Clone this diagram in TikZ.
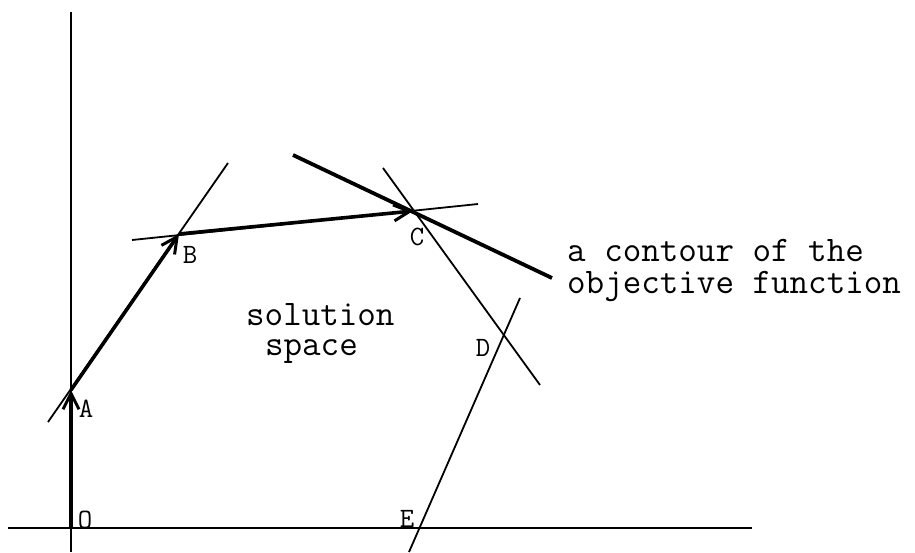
\documentclass[tikz,border=0pt]{standalone}
\usetikzlibrary{arrows.meta}
\begin{document}
\begin{tikzpicture}[x=1pt,y=-1pt,
  axis/.style={line width=2.1pt},
  thinline/.style={line width=1.8pt},
  pathseg/.style={line width=3.6pt, -{Straight Barb[length=16pt,width=16pt,line width=3pt]}},
  contour/.style={line width=3.8pt},
  lbl/.style={font=\ttfamily\fontsize{28}{28}\selectfont, inner sep=0pt},
  txt/.style={inner sep=0pt, anchor=north west, align=left}]
\useasboundingbox (0,0) rectangle (915,552);
% key points
\coordinate (O) at (71,528);
\coordinate (A) at (71,390);
\coordinate (B) at (179,234);
\coordinate (C) at (413,211);
\coordinate (D) at (503,337);
\coordinate (E) at (419,528);
% end points of the lines
\coordinate (ytop) at (71,12);
\coordinate (ybot) at (71,552);
\coordinate (xl) at (8,528);
\coordinate (xr) at (752,528);
\coordinate (ab1) at (48,422);
\coordinate (ab2) at (228,163);
\coordinate (bc1) at (132,240);
\coordinate (bc2) at (478,204);
\coordinate (cd1) at (383,168);
\coordinate (cd2) at (540,385);
\coordinate (de1) at (520,298);
\coordinate (de2) at (409,552);
\coordinate (ct1) at (293,155);
\coordinate (ct2) at (552,278);
% axes
\draw[axis] (ytop) -- (ybot);
\draw[axis] (xl) -- (xr);
% constraint lines
\draw[thinline] (ab1) -- (ab2);
\draw[thinline] (bc1) -- (bc2);
\draw[thinline] (cd1) -- (cd2);
\draw[thinline] (de1) -- (de2);
% objective contour
\draw[contour] (ct1) -- (ct2);
% simplex path
\draw[pathseg] (O) -- (A);
\draw[pathseg] (A) -- (B);
\draw[pathseg] (B) -- (C);
% labels
\node[lbl] (lO) at (85,520) {O};
\node[lbl] (lA) at (86,409) {A};
\node[lbl] (lB) at (190,255) {B};
\node[lbl] (lC) at (417,237) {C};
\node[lbl] (lD) at (483,348) {D};
\node[lbl] (lE) at (407,519) {E};
% texts
\node[txt, font=\ttfamily\fontsize{36}{30}\selectfont] (sol) at (246,303)
  {solution\\\hspace*{0.525em}space};
\node[txt, font=\ttfamily\fontsize{36}{32}\selectfont] (cont) at (567,239)
  {a contour of the\\objective function};
\end{tikzpicture}
\end{document}
